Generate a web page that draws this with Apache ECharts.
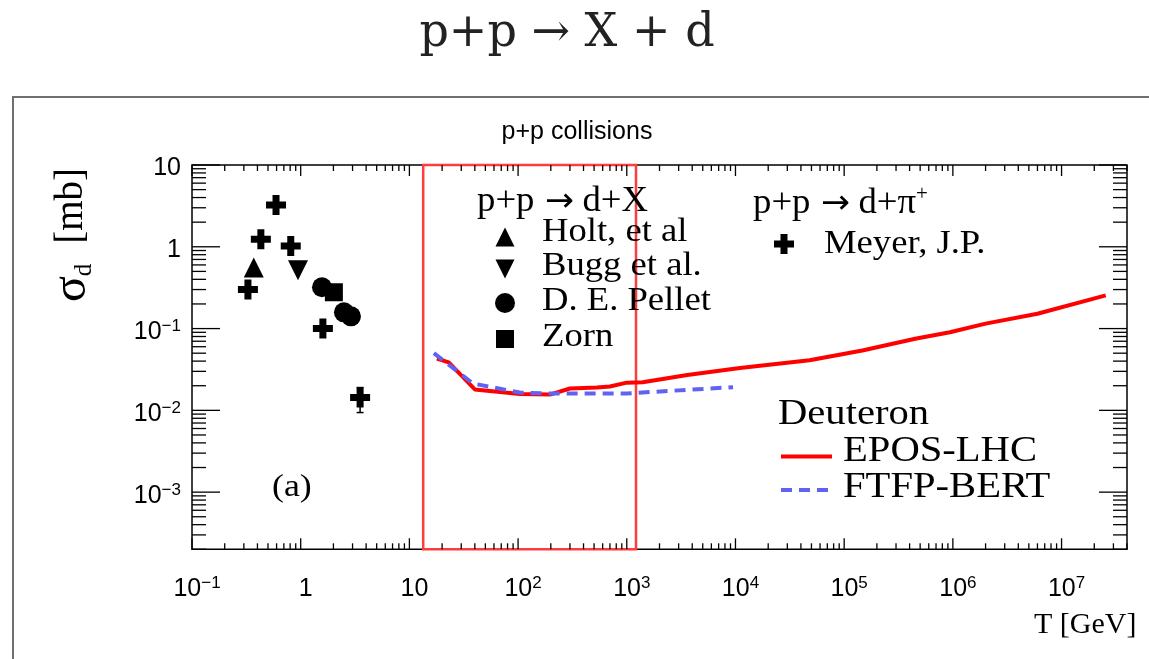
<!DOCTYPE html>
<html><head><meta charset="utf-8">
<script src="https://cdn.jsdelivr.net/npm/echarts@6/dist/echarts.min.js"></script>
<style>html,body{margin:0;padding:0;background:#fff}#c{width:1149px;height:659px}</style>
</head><body><div id="c"></div>
<script>
// ---- data (T [GeV], sigma_d [mb]) ----
const holtData = [[0.37, 0.56]];
const buggData = [[0.944, 0.516]];
const pelletData = [[1.57, 0.32], [2.5, 0.158], [2.9, 0.141]];
const zornData = [[2.02, 0.278]];
const meyerData = [[0.327, 0.30], [0.43, 1.24], [0.593, 3.24], [0.81, 1.02], [1.6, 0.10], [3.52, 0.0144]];
const meyerErr = [[3.52, 0.0094, 0.019]];
const eposData = [[17.9, 0.043], [23, 0.0385], [40, 0.018], [104, 0.0158], [196, 0.0156], [300, 0.0185], [530, 0.019], [700, 0.0196], [1000, 0.0218], [1400, 0.022], [3600, 0.027], [11000, 0.033], [48000, 0.041], [147000, 0.054], [450000, 0.075], [940000, 0.09], [2e6, 0.115], [6e6, 0.152], [2.55e7, 0.255]];
const ftfpData = [[16.8, 0.05], [38.5, 0.0213], [104, 0.0165], [196, 0.0161], [1000, 0.0161], [9500, 0.0192]];
const boxCorners = [[13.4, 2e-4], [1216, 10]];
const xRange = [0.1, 4e7];
const yRange = [2e-4, 10];
// tick labels, indexed by decade exponent
const xTickExp = [-1, 0, 1, 2, 3, 4, 5, 6, 7];
const xTickLabels = ['{b|10}{s|\u22121}', '{b|1}', '{b|10}', '{b|10}{s|2}', '{b|10}{s|3}', '{b|10}{s|4}', '{b|10}{s|5}', '{b|10}{s|6}', '{b|10}{s|7}'];
const yTickExp = [-3, -2, -1, 0, 1];
const yTickLabels = ['{b|10}{s|\u22123}', '{b|10}{s|\u22122}', '{b|10}{s|\u22121}', '{b|1}', '{b|10}'];

// tick marks (ROOT style: major at decades, minor at 2..9)
const tickItems = [];
for (let n = -1; n <= 7; n++) for (let m = 1; m <= 9; m++) {
  const v = m * Math.pow(10, n);
  if (v >= xRange[0] * 0.999 && v <= xRange[1] * 1.001) tickItems.push([v, yRange[0], 0, m === 1 ? 1 : 0]);
}
for (let n = -4; n <= 1; n++) for (let m = 1; m <= 9; m++) {
  const v = m * Math.pow(10, n);
  if (v >= yRange[0] * 0.999 && v <= yRange[1] * 1.001) tickItems.push([xRange[0], v, 1, m === 1 ? 1 : 0]);
}

function labelFor(exps, labels) {
  return function (v) {
    const e = Math.log10(v), r = Math.round(e);
    if (Math.abs(e - r) > 1e-6) return '';
    const i = exps.indexOf(r);
    return i < 0 ? '' : labels[i];
  };
}
const richLab = {
  b: { fontFamily: 'Liberation Sans', fontSize: 25, color: '#000', lineHeight: 28 },
  s: { fontFamily: 'Liberation Sans', fontSize: 17, color: '#000', lineHeight: 14, verticalAlign: 'top' }
};

const crossPath = 'path://M6.5,0 H13.5 V6.5 H20 V13.5 H13.5 V20 H6.5 V13.5 H0 V6.5 H6.5 Z';
const black = { color: '#000', opacity: 1 };

function renderTicks(params, api) {
  const kind = api.value(2), major = api.value(3);
  const st = { stroke: '#000', lineWidth: 1.3 };
  if (kind === 0) {
    const v = api.value(0);
    const b = api.coord([v, yRange[0]]), t = api.coord([v, yRange[1]]);
    const L = major ? 11 : 6;
    return { type: 'group', children: [
      { type: 'line', shape: { x1: b[0], y1: b[1], x2: b[0], y2: b[1] - L }, style: st },
      { type: 'line', shape: { x1: t[0], y1: t[1], x2: t[0], y2: t[1] + L }, style: st }
    ] };
  }
  const v = api.value(1);
  const l = api.coord([xRange[0], v]), r = api.coord([xRange[1], v]);
  const L = major ? 28 : 14;
  return { type: 'group', children: [
    { type: 'line', shape: { x1: l[0], y1: l[1], x2: l[0] + L, y2: l[1] }, style: st },
    { type: 'line', shape: { x1: r[0], y1: r[1], x2: r[0] - L, y2: r[1] }, style: st }
  ] };
}
function renderErr(params, api) {
  const x = api.value(0);
  const lo = api.coord([x, api.value(1)]), hi = api.coord([x, api.value(2)]);
  const st = { stroke: '#000', lineWidth: 1.5 };
  return { type: 'group', children: [
    { type: 'line', shape: { x1: lo[0], y1: lo[1], x2: hi[0], y2: hi[1] }, style: st },
    { type: 'line', shape: { x1: lo[0] - 3.5, y1: lo[1], x2: lo[0] + 3.5, y2: lo[1] }, style: st },
    { type: 'line', shape: { x1: hi[0] - 3.5, y1: hi[1], x2: hi[0] + 3.5, y2: hi[1] }, style: st }
  ] };
}

function T(x, y, text, size, sx, extra) {
  return Object.assign({ type: 'text', x: x, y: y, scaleX: sx || 1, z: 50,
    style: { text: text, fontFamily: 'Liberation Serif', fontSize: size, fill: '#000', align: 'left', verticalAlign: 'middle' } }, extra || {});
}
function tri(cx, cy, s, down) {
  const h = s / 2;
  const pts = down ? [[cx - h, cy - h], [cx + h, cy - h], [cx, cy + h]] : [[cx, cy - h], [cx + h, cy + h], [cx - h, cy + h]];
  return { type: 'polygon', z: 50, shape: { points: pts }, style: { fill: '#000' } };
}
function crossG(cx, cy, s) {
  const a = s / 2, b = s * 0.175;
  return { type: 'polygon', z: 50, shape: { points: [[cx - b, cy - a], [cx + b, cy - a], [cx + b, cy - b], [cx + a, cy - b], [cx + a, cy + b], [cx + b, cy + b], [cx + b, cy + a], [cx - b, cy + a], [cx - b, cy + b], [cx - a, cy + b], [cx - a, cy - b], [cx - b, cy - b]] }, style: { fill: '#000' } };
}
const legRich = {
  a: { fontFamily: 'Liberation Serif', fontSize: 35, lineHeight: 38, fill: '#000' },
  ar: { fontFamily: 'DejaVu Sans', fontSize: 33, lineHeight: 38, fill: '#000', padding: [0, 8, 0, 10] },
  s: { fontFamily: 'Liberation Serif', fontSize: 20, lineHeight: 24, verticalAlign: 'top', fill: '#000' }
};

const chart = echarts.init(document.getElementById('c'), null, { renderer: 'canvas' });
chart.setOption({
  backgroundColor: '#ffffff',
  animation: false,
  grid: { left: 192, top: 165, width: 935, height: 384.3, show: true, borderColor: '#000', borderWidth: 1.5, backgroundColor: 'transparent' },
  xAxis: {
    type: 'log', min: xRange[0], max: xRange[1],
    axisLine: { show: false }, axisTick: { show: false }, splitLine: { show: false }, minorTick: { show: false },
    axisLabel: { formatter: labelFor(xTickExp, xTickLabels), margin: 26, padding: [0, 0, 0, 10], rich: richLab, showMinLabel: true, showMaxLabel: true }
  },
  yAxis: {
    type: 'log', min: yRange[0], max: yRange[1],
    axisLine: { show: false }, axisTick: { show: false }, splitLine: { show: false }, minorTick: { show: false },
    axisLabel: { formatter: labelFor(yTickExp, yTickLabels), margin: 11, padding: [7, 0, 0, 0], rich: richLab }
  },
  series: [
    { type: 'custom', name: 'ticks', data: tickItems, renderItem: renderTicks, silent: true, z: 1, encode: { x: 0, y: 1 } },
    { type: 'line', name: 'EPOS-LHC', data: eposData, showSymbol: false, clip: false, z: 3,
      lineStyle: { color: '#ff0000', width: 4 },
      markArea: { silent: true, itemStyle: { color: 'rgba(0,0,0,0)', borderColor: '#ff3b3b', borderWidth: 2.5 },
        data: [[{ coord: boxCorners[0] }, { coord: boxCorners[1] }]] } },
    { type: 'line', name: 'FTFP-BERT', data: ftfpData, showSymbol: false, z: 4,
      lineStyle: { color: '#6262f2', width: 4, type: [11, 7] } },
    { type: 'scatter', name: 'Holt', data: holtData, symbol: 'triangle', symbolSize: 20, itemStyle: black, z: 5 },
    { type: 'scatter', name: 'Bugg', data: buggData, symbol: 'triangle', symbolRotate: 180, symbolSize: 20, itemStyle: black, z: 5 },
    { type: 'scatter', name: 'Pellet', data: pelletData, symbol: 'circle', symbolSize: 20, itemStyle: black, z: 5 },
    { type: 'scatter', name: 'Zorn', data: zornData, symbol: 'rect', symbolSize: 18, itemStyle: black, z: 5 },
    { type: 'custom', name: 'MeyerErr', data: meyerErr, renderItem: renderErr, z: 5, encode: { x: 0, y: 1 } },
    { type: 'scatter', name: 'Meyer', data: meyerData, symbol: crossPath, symbolSize: 20, itemStyle: black, z: 6 }
  ],
  graphic: [
    { type: 'rect', z: 0, shape: { x: 13, y: 97, width: 1300, height: 800 }, style: { fill: 'none', stroke: '#707070', lineWidth: 2 } },
    { type: 'text', x: 567, y: 34, z: 50, style: { text: 'p+p \u2192 X + d', fontFamily: 'DejaVu Serif', fontSize: 46, fill: '#222', align: 'center', verticalAlign: 'middle' } },
    { type: 'text', x: 577, y: 132, z: 50, style: { text: 'p+p collisions', fontFamily: 'Liberation Sans', fontSize: 25, fill: '#000', align: 'center', verticalAlign: 'middle' } },
    { type: 'text', x: 72, y: 235, rotation: Math.PI / 2, z: 50, style: { text: '{g|\u03c3}{d|d}{t|[mb]}', align: 'center', verticalAlign: 'middle',
      rich: { g: { fontFamily: 'Liberation Serif', fontSize: 48, lineHeight: 50, fill: '#000' },
              d: { fontFamily: 'Liberation Serif', fontSize: 25, lineHeight: 24, verticalAlign: 'bottom', fill: '#000' },
              t: { fontFamily: 'Liberation Serif', fontSize: 39, lineHeight: 50, padding: [0, 0, 0, 20], fill: '#000' } } } },
    { type: 'text', x: 477, y: 202, scaleX: 1.05, z: 50, style: { text: '{a|p+p}{ar|\u2192}{a|d+X}', align: 'left', verticalAlign: 'middle', rich: legRich } },
    T(542, 232, 'Holt, et al', 33, 1.11),
    T(542, 266, 'Bugg et al.', 33, 1.11),
    T(542, 301, 'D. E. Pellet', 33, 1.11),
    T(542, 337, 'Zorn', 33, 1.11),
    tri(505, 237, 19, false), tri(505, 269, 19, true),
    { type: 'circle', z: 50, shape: { cx: 505, cy: 303, r: 10 }, style: { fill: '#000' } },
    { type: 'rect', z: 50, shape: { x: 496, y: 330, width: 18, height: 18 }, style: { fill: '#000' } },
    { type: 'text', x: 753, y: 204, scaleX: 1.05, z: 50, style: { text: '{a|p+p}{ar|\u2192}{a|d+\u03c0}{s|+}', align: 'left', verticalAlign: 'middle', rich: legRich } },
    crossG(784, 244, 20),
    T(824, 244, 'Meyer, J.P.', 33, 1.11),
    T(778, 415, 'Deuteron', 35, 1.16),
    { type: 'line', z: 50, shape: { x1: 781, y1: 456.5, x2: 832, y2: 456.5 }, style: { stroke: '#ff0000', lineWidth: 4 } },
    T(843, 452, 'EPOS-LHC', 35, 1.16),
    { type: 'line', z: 50, shape: { x1: 781, y1: 490, x2: 832, y2: 490 }, style: { stroke: '#6262f2', lineWidth: 4, lineDash: [11, 7] } },
    T(843, 487.5, 'FTFP-BERT', 35, 1.16),
    T(272, 488, '(a)', 32, 1.12),
    T(1034, 625, 'T [GeV]', 30, 1)
  ]
});
</script></body></html>
